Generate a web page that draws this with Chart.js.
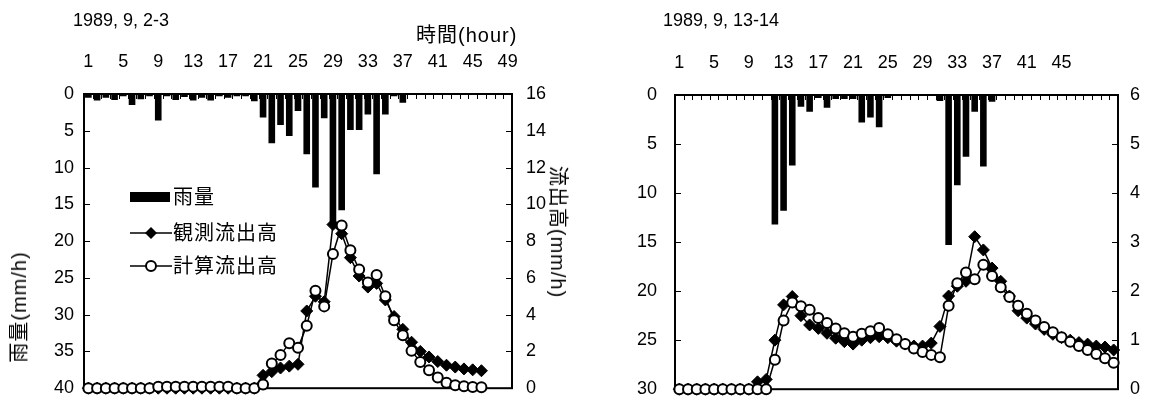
<!DOCTYPE html>
<html lang="ja">
<head>
    <meta charset="UTF-8">
    <title>雨量と流出高 1989年9月</title>
    <script src="https://cdn.jsdelivr.net/npm/chart.js@4.4.2/dist/chart.umd.min.js"></script>
    <style>
        body {
            margin: 0;
            width: 1156px;
            height: 403px;
            position: relative;
            overflow: hidden;
            background: #fff;
            color: #000;
            font-family: "Liberation Sans", "Noto Sans CJK JP", sans-serif;
        }
        canvas { position: absolute; top: 0; }
        .t {
            position: absolute;
            white-space: nowrap;
            line-height: 1;
            font-size: 18px;
            transform: translateY(-50%);
        }
        .cjk { font-size: 20px; letter-spacing: 1px; }
        .vt {
            position: absolute;
            white-space: nowrap;
            line-height: 1;
            font-size: 20px;
            letter-spacing: 1px;
        }
        .up { transform: translate(-50%, -50%) rotate(-90deg); }
        .down { transform: translate(-50%, -50%) rotate(90deg); }
        .sw { position: absolute; }
    </style>
</head>
<body>
    <!-- canvases are a little taller than the page: the y tick padding is
         added below the plot by Chart.js, the overflow is cut off -->
    <canvas id="leftChart" width="578" height="413" style="left:0"></canvas>
    <canvas id="rightChart" width="578" height="418" style="left:578px"></canvas>

    <!-- titles -->
    <div class="t" style="left:73px; top:20px">1989, 9, 2-3</div>
    <div class="t cjk" style="left:416px; top:35px">時間(hour)</div>
    <div class="t" style="left:663px; top:20px">1989, 9, 13-14</div>
    <div class="vt up" style="left:19px; top:307px">雨量(mm/h)</div>
    <div class="vt down" style="left:558px; top:232px">流出高(mm/h)</div>

    <!-- legend -->
    <div class="sw" style="left:130px; top:192px; width:40px; height:10px; background:#000"></div>
    <div class="t cjk" style="left:173px; top:197px">雨量</div>
    <svg class="sw" style="left:130px; top:225px" width="42" height="16">
        <line x1="0" y1="8" x2="42" y2="8" stroke="#000" stroke-width="1.5"/>
        <polygon points="21,2 27,8 21,14 15,8" fill="#000"/>
    </svg>
    <div class="t cjk" style="left:173px; top:233px">観測流出高</div>
    <svg class="sw" style="left:130px; top:258px" width="42" height="16">
        <line x1="0" y1="8" x2="42" y2="8" stroke="#000" stroke-width="1.5"/>
        <circle cx="21" cy="8" r="5" fill="#fff" stroke="#000" stroke-width="2"/>
    </svg>
    <div class="t cjk" style="left:173px; top:266px">計算流出高</div>

    <script>
    // --- 1989.9.2-3 ---
    const leftHours = [1, 2, 3, 4, 5, 6, 7, 8, 9, 10, 11, 12, 13, 14, 15, 16, 17, 18, 19, 20,
        21, 22, 23, 24, 25, 26, 27, 28, 29, 30, 31, 32, 33, 34, 35, 36, 37, 38, 39, 40,
        41, 42, 43, 44, 45, 46, 47, 48, 49];
    const leftRain = [0.5, 0.9, 0.5, 0.8, 0.3, 1.5, 0.7, 0.3, 3.6, 0.3,
        0.8, 0.4, 0.9, 0.5, 0.9, 0.3, 0.5, 0.3, 0.3, 1.0,
        3.2, 6.7, 4.2, 5.7, 2.3, 8.2, 12.7, 3.3, 17.5, 15.8,
        4.9, 4.9, 2.8, 10.9, 2.8, 0.3, 1.2, 0, 0, 0,
        0, 0, 0, 0, 0, 0];
    const leftObs = [0, 0, 0, 0, 0, 0, 0, 0, 0, 0,
        0, 0, 0, 0, 0, 0, 0, 0, 0, 0,
        0.7, 0.9, 1.1, 1.2, 1.3, 4.2, 5.0, 4.7, 8.9, 8.4,
        7.1, 6.1, 5.5, 5.7, 4.8, 3.9, 3.2, 2.5, 2.0, 1.7,
        1.45, 1.25, 1.15, 1.05, 1.0, 0.95];
    const leftCalc = [0, 0, 0, 0, 0, 0, 0, 0, 0.08, 0.08,
        0.08, 0.08, 0.08, 0.08, 0.08, 0.08, 0.08, 0, 0, 0,
        0.2, 1.34, 1.8, 2.45, 2.2, 3.4, 5.3, 4.45, 7.3, 8.85,
        7.5, 6.45, 5.75, 6.15, 5.0, 3.7, 2.88, 2.03, 1.43, 0.98,
        0.58, 0.29, 0.16, 0.1, 0.06, 0.05];

    // --- 1989.9.13-14 ---
    const rightHours = [1, 2, 3, 4, 5, 6, 7, 8, 9, 10, 11, 12, 13, 14, 15, 16, 17, 18, 19, 20,
        21, 22, 23, 24, 25, 26, 27, 28, 29, 30, 31, 32, 33, 34, 35, 36, 37, 38, 39, 40,
        41, 42, 43, 44, 45, 46, 47, 48, 49, 50, 51];
    const rightRain = [0, 0, 0, 0, 0, 0, 0, 0, 0, 0,
        0, 13.2, 11.8, 7.2, 1.2, 1.7, 0.3, 1.3, 0.4, 0.4,
        0.4, 2.8, 2.3, 3.3, 0.3, 0, 0, 0, 0, 0,
        0.6, 15.3, 9.2, 6.3, 1.7, 7.3, 0.7, 0, 0, 0,
        0, 0, 0, 0, 0, 0, 0, 0, 0, 0, 0];
    const rightObs = [0, 0, 0, 0, 0, 0, 0, 0, 0, 0.15,
        0.2, 1.0, 1.72, 1.89, 1.5, 1.31, 1.24, 1.14, 1.04, 0.97,
        0.92, 1.0, 1.05, 1.07, 1.05, 0.98, 0.92, 0.88, 0.88, 0.94,
        1.28, 1.9, 2.1, 2.2, 3.11, 2.84, 2.47, 2.2, 1.9, 1.6,
        1.45, 1.33, 1.22, 1.12, 1.05, 1.0, 0.95, 0.92, 0.88, 0.86, 0.8];
    const rightCalc = [0, 0, 0, 0, 0, 0, 0, 0, 0, 0,
        0, 0.6, 1.4, 1.77, 1.69, 1.62, 1.45, 1.35, 1.24, 1.14,
        1.07, 1.13, 1.18, 1.25, 1.12, 1.02, 0.92, 0.83, 0.76, 0.7,
        0.65, 1.7, 2.16, 2.38, 2.24, 2.54, 2.31, 2.08, 1.88, 1.7,
        1.54, 1.4, 1.27, 1.16, 1.06, 0.97, 0.88, 0.8, 0.72, 0.63, 0.54];

    Chart.defaults.font.family = '"Liberation Sans", "Noto Sans CJK JP", sans-serif';
    Chart.defaults.font.size = 18;
    Chart.defaults.color = '#000';

    // frame of the plot and the short inner tick marks
    const framePlugin = {
        id: 'frame',
        beforeDatasetsDraw(chart) {
            const { ctx, chartArea: a, scales } = chart;
            ctx.save();
            ctx.strokeStyle = '#000';
            ctx.lineWidth = 2;
            ctx.strokeRect(a.left, a.top, a.right - a.left, a.bottom - a.top);
            ctx.lineWidth = 1;
            ctx.beginPath();
            const x = scales.x;
            const half = (x.getPixelForValue(1) - x.getPixelForValue(0)) / 2;
            for (let i = 1; i < x.ticks.length; i++) {
                const px = Math.round(x.getPixelForValue(i) - half) + 0.5;
                ctx.moveTo(px, a.top);
                ctx.lineTo(px, a.top + 5);
            }
            scales.yRain.ticks.forEach((t, i) => {
                const py = Math.round(scales.yRain.getPixelForTick(i)) + 0.5;
                ctx.moveTo(a.left, py);
                ctx.lineTo(a.left + 6, py);
            });
            scales.yFlow.ticks.forEach((t, i) => {
                const py = Math.round(scales.yFlow.getPixelForTick(i)) + 0.5;
                ctx.moveTo(a.right, py);
                ctx.lineTo(a.right - 6, py);
            });
            ctx.stroke();
            ctx.restore();
        }
    };

    function createChart(canvasId, c) {
        new Chart(document.getElementById(canvasId), {
            type: 'bar',
            data: {
                labels: c.hours,
                datasets: [
                    {
                        type: 'line',
                        label: '計算流出高',
                        data: c.calc,
                        yAxisID: 'yFlow',
                        order: 1,
                        clip: false,
                        borderColor: '#000',
                        borderWidth: 1.5,
                        pointStyle: 'circle',
                        pointRadius: 5,
                        pointBackgroundColor: '#fff',
                        pointBorderColor: '#000',
                        pointBorderWidth: 2
                    },
                    {
                        type: 'line',
                        label: '観測流出高',
                        data: c.obs,
                        yAxisID: 'yFlow',
                        order: 2,
                        clip: false,
                        borderColor: '#000',
                        borderWidth: 1.5,
                        pointStyle: 'rectRot',
                        pointRadius: 6,
                        pointBackgroundColor: '#000',
                        pointBorderColor: '#000',
                        pointBorderWidth: 1
                    },
                    {
                        type: 'bar',
                        label: '雨量',
                        data: c.rain,
                        yAxisID: 'yRain',
                        order: 3,
                        backgroundColor: '#000',
                        categoryPercentage: 0.76,
                        barPercentage: 1
                    }
                ]
            },
            options: {
                responsive: false,
                animation: false,
                layout: { padding: 0 },
                plugins: { legend: { display: false }, tooltip: { enabled: false } },
                scales: {
                    x: {
                        type: 'category',
                        position: 'top',
                        offset: true,
                        grid: { display: false, drawTicks: false },
                        border: { display: false },
                        ticks: {
                            autoSkip: false,
                            maxRotation: 0,
                            padding: 21,
                            callback: function (value, index) {
                                const h = this.getLabelForValue(value);
                                return (index % 4 === 0 && h <= c.lastLabel) ? h : '';
                            }
                        },
                        afterFit: s => { s.height = c.top; }
                    },
                    yRain: {
                        position: 'left',
                        reverse: true,
                        min: 0,
                        max: c.rainMax,
                        grid: { display: false, drawTicks: false },
                        border: { display: false },
                        ticks: { stepSize: 5, padding: c.leftPad },
                        afterFit: s => { s.width = c.left; }
                    },
                    yFlow: {
                        position: 'right',
                        min: 0,
                        max: c.flowMax,
                        grid: { display: false, drawTicks: false },
                        border: { display: false },
                        ticks: { stepSize: c.flowStep, padding: c.rightPad },
                        afterFit: s => { s.width = c.right; }
                    }
                }
            },
            plugins: [framePlugin]
        });
    }

    createChart('leftChart', {
        hours: leftHours, rain: leftRain, obs: leftObs, calc: leftCalc,
        lastLabel: 49, rainMax: 40, flowMax: 16, flowStep: 2,
        top: 94, left: 84, right: 66, leftPad: 10, rightPad: 14
    });
    createChart('rightChart', {
        hours: rightHours, rain: rightRain, obs: rightObs, calc: rightCalc,
        lastLabel: 45, rainMax: 30, flowMax: 6, flowStep: 1,
        top: 95, left: 97, right: 38, leftPad: 18, rightPad: 12
    });
    </script>
</body>
</html>
